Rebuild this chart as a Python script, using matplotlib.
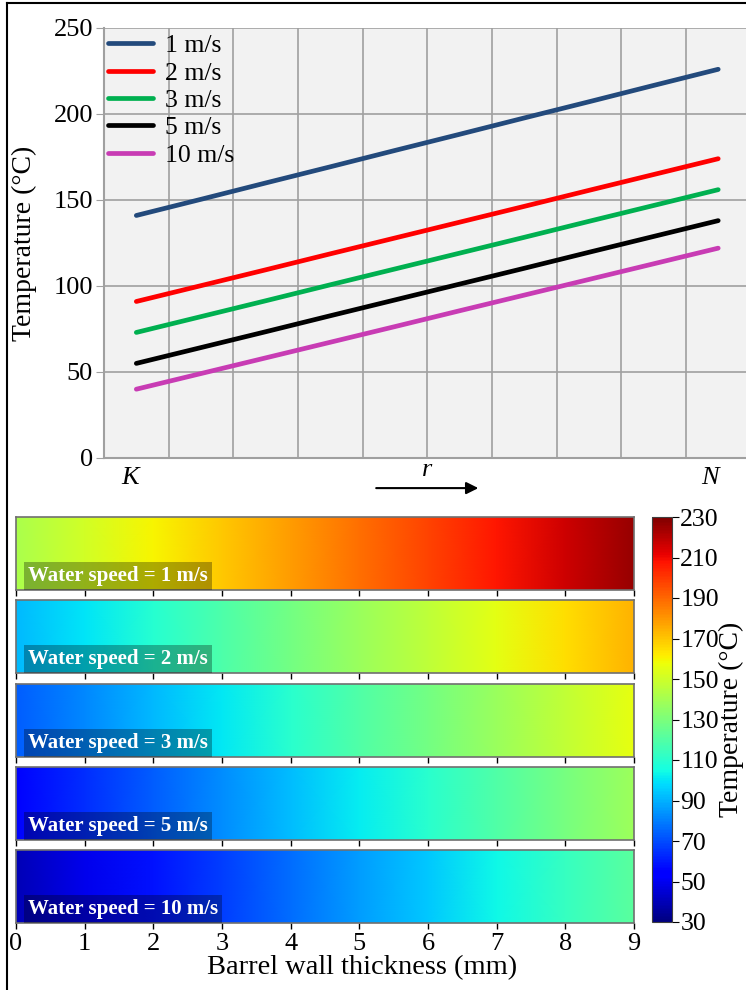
import numpy as np
import matplotlib
matplotlib.use("Agg")
import matplotlib.pyplot as plt
from matplotlib.lines import Line2D
from matplotlib import transforms

plt.rcParams['font.family'] = ['Liberation Serif', 'DejaVu Serif']

# positions along the wall (K -> N), mm
pos = [0, 1, 2, 3, 4, 5, 6, 7, 8, 9]
speeds = ['1 m/s', '2 m/s', '3 m/s', '5 m/s', '10 m/s']
temp_1 = [141, 150.4, 159.9, 169.3, 178.8, 188.2, 197.7, 207.1, 216.6, 226]
temp_2 = [91, 100.2, 109.4, 118.7, 127.9, 137.1, 146.3, 155.6, 164.8, 174]
temp_3 = [73, 82.2, 91.4, 100.7, 109.9, 119.1, 128.3, 137.6, 146.8, 156]
temp_5 = [55, 64.2, 73.4, 82.7, 91.9, 101.1, 110.3, 119.6, 128.8, 138]
temp_10 = [40, 49.1, 58.2, 67.3, 76.4, 85.6, 94.7, 103.8, 112.9, 122]
line_colors = ['#234a7c', '#ff0000', '#00b050', '#000000', '#c83cb4']
yticks = [0, 50, 100, 150, 200, 250]
cbar_ticks = list(range(30, 231, 20))

all_temps = [temp_1, temp_2, temp_3, temp_5, temp_10]

fig = plt.figure(figsize=(7.46, 9.9), dpi=100)
W, H = 746.0, 990.0

# ---- top line plot ----
ax = fig.add_axes([104 / W, 1 - 458 / H, 1 - 104 / W, 430 / H])
ax.set_facecolor('#f2f2f2')
for t, c, lab in zip(all_temps, line_colors, speeds):
    ax.plot(pos, t, color=c, lw=3.4, label=lab, solid_capstyle='round')
ax.set_xlim(-0.5, 9.43)
ax.set_ylim(0, 250)
ax.set_yticks(yticks)
ax.set_xticks(np.arange(0.5, 9, 1))
ax.set_xticklabels([])
ax.tick_params(axis='x', length=0)
ax.tick_params(axis='y', length=6, color='#a0a0a0', labelsize=19, pad=2)
ax.grid(True, color='#a0a0a0', lw=1.2)
ax.set_axisbelow(True)
for s in ['top', 'right']:
    ax.spines[s].set_visible(False)
for s in ['left', 'bottom']:
    ax.spines[s].set_color('#a0a0a0')
    ax.spines[s].set_linewidth(1.5)
ax.set_ylabel('Temperature (°C)', fontsize=20, labelpad=12)
ax.legend(loc='upper left', frameon=False, fontsize=18.5, handlelength=1.75,
          labelspacing=0.17, borderaxespad=0.0, handletextpad=0.45,
          borderpad=0.3, bbox_to_anchor=(-0.005, 1.003))

tr = transforms.blended_transform_factory(ax.transData, ax.transAxes)
ax.text(-0.1, -0.047, 'K', transform=tr, ha='center', va='center',
        fontsize=19, style='italic')
ax.text(8.87, -0.047, 'N', transform=tr, ha='center', va='center',
        fontsize=19, style='italic')
ax.text(4.5, -0.028, 'r', transform=tr, ha='center', va='center',
        fontsize=19, style='italic')
ax.annotate('', xy=(5.29, -0.07), xytext=(3.71, -0.07), xycoords=tr,
            textcoords=tr, annotation_clip=False,
            arrowprops=dict(arrowstyle='-|>', color='k', lw=1.5,
                            mutation_scale=18, shrinkA=0, shrinkB=0))

# ---- heat strips ----
tops = [517, 600, 684, 767, 850]
ph = 73
cmap = plt.get_cmap('jet')
for i, (t, lab) in enumerate(zip(all_temps, speeds)):
    hx = fig.add_axes([16 / W, 1 - (tops[i] + ph) / H, 618 / W, ph / H])
    C = np.array([t, t])
    mesh = hx.pcolormesh(pos, [0, 1], C, shading='gouraud', cmap=cmap,
                         vmin=30, vmax=230)
    hx.set_xlim(0, 9)
    hx.set_ylim(0, 1)
    hx.set_yticks([])
    hx.set_xticks(pos)
    hx.tick_params(axis='x', length=4, width=1, labelsize=19, pad=3)
    if i < 4:
        hx.set_xticklabels([])
    for s in hx.spines.values():
        s.set_color('#707070')
        s.set_linewidth(1.2)
    hx.text(0.0195, 0.058, 'Water speed = ' + lab, transform=hx.transAxes,
            color='white', fontsize=15, fontweight='bold', ha='left',
            va='bottom',
            bbox=dict(facecolor='black', alpha=0.3, edgecolor='none',
                      boxstyle='square,pad=0.2'))

fig.text(362 / W, 1 - 968 / H, 'Barrel wall thickness (mm)', fontsize=20.5,
         ha='center', va='center')

cax = fig.add_axes([652 / W, 1 - 922 / H, 20 / W, 405 / H])
cb = fig.colorbar(mesh, cax=cax, ticks=cbar_ticks)
cb.ax.tick_params(labelsize=18.5, length=5, pad=1)
cb.outline.set_edgecolor('#404040')
cb.set_label('Temperature (°C)', fontsize=20, labelpad=0)

# outer frame
fig.add_artist(Line2D([7 / W, 7 / W], [0, 1 - 3 / H], color='k', lw=1.5,
                      transform=fig.transFigure))
fig.add_artist(Line2D([7 / W, 1], [1 - 3 / H, 1 - 3 / H], color='k', lw=1.5,
                      transform=fig.transFigure))

fig.savefig('out.png', dpi=100)
